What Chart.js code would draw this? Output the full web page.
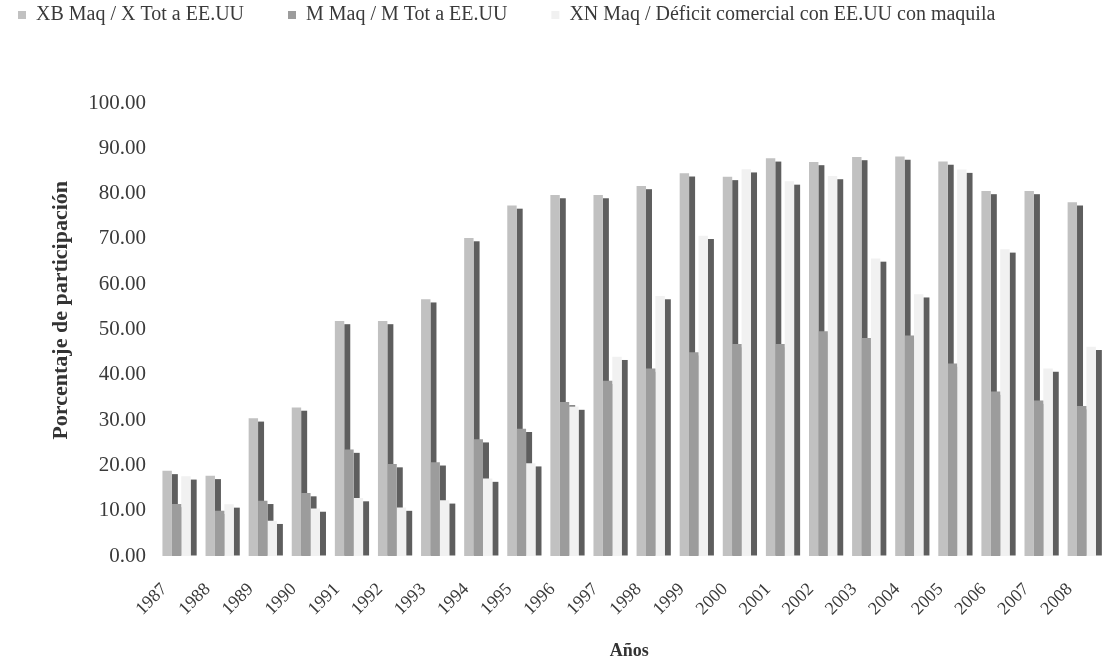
<!DOCTYPE html>
<html>
<head>
<meta charset="utf-8">
<script src="https://cdn.jsdelivr.net/npm/chart.js@4.4.0/dist/chart.umd.min.js"></script>
<style>
  html, body { margin: 0; padding: 0; background: #ffffff; overflow: hidden; }
  #wrap { position: relative; width: 1120px; height: 664px; }
</style>
</head>
<body>
<div id="wrap"><canvas id="c"></canvas></div>
<script>
// ---- data ----
const years = ['1987','1988','1989','1990','1991','1992','1993','1994','1995','1996','1997',
               '1998','1999','2000','2001','2002','2003','2004','2005','2006','2007','2008'];
const xbMaqShare = [18.8, 17.7, 30.4, 32.8, 51.9, 51.9, 56.7, 70.2, 77.4, 79.7, 79.7,
                    81.7, 84.5, 83.7, 87.8, 87.0, 88.1, 88.2, 87.1, 80.6, 80.6, 78.1];
const mMaqShare  = [11.5, 10.0, 12.2, 13.9, 23.5, 20.3, 20.7, 25.8, 28.1, 34.0, 38.7,
                    41.4, 45.0, 46.8, 46.8, 49.6, 48.1, 48.7, 42.5, 36.3, 34.3, 33.1];
const xnMaqShare = [17.6, 11.4, 7.8, 10.5, 12.8, 10.7, 12.3, 17.1, 20.5, 33.0, 44.0,
                    57.4, 70.7, 85.4, 82.7, 83.9, 65.7, 57.8, 85.3, 67.7, 41.4, 46.2];
const seriesNames = ['XB Maq / X Tot a EE.UU', 'M Maq / M Tot a EE.UU',
                     'XN Maq / Déficit comercial con EE.UU con maquila'];
const yTicks = [0, 10, 20, 30, 40, 50, 60, 70, 80, 90, 100];
const xTitle = 'Años';
const yTitle = 'Porcentaje de participación';

// ---- style ----
const SERIF = '"Liberation Serif", "Times New Roman", "DejaVu Serif", serif';
Chart.defaults.font.family = SERIF;
Chart.defaults.color = '#3a3a3a';
const SIDE_COLOR = '#5e5e5e';
const SIDE_DEPTH = 6;
const SIDE_DROP = 3.3;

// draws the dark right-hand side face of each column (3D look), behind the fronts
const sides3d = {
  id: 'sides3d',
  beforeDatasetsDraw(chart) {
    const ctx = chart.ctx;
    ctx.save();
    ctx.fillStyle = SIDE_COLOR;
    chart.data.datasets.forEach((ds, i) => {
      const meta = chart.getDatasetMeta(i);
      meta.data.forEach(bar => {
        const p = bar.getProps(['x', 'y', 'base', 'width'], true);
        const right = p.x + p.width / 2;
        const top = p.y + SIDE_DROP;
        const bottom = p.base - 0.5;
        if (bottom > top) ctx.fillRect(right, top, SIDE_DEPTH, bottom - top);
      });
    });
    ctx.restore();
  }
};

// legend height tweak so that the plot starts where the reference does
const legendSpace = {
  id: 'legendSpace',
  beforeInit(chart) {
    const lg = chart.legend;
    if (!lg) return;
    const origFit = lg.fit;
    lg.fit = function () {
      origFit.call(this);
      this.height = 142;
    };
  }
};

new Chart(document.getElementById('c'), {
  type: 'bar',
  data: {
    labels: years,
    datasets: [
      { label: seriesNames[0], data: xbMaqShare, backgroundColor: '#c1c1c1', borderWidth: 0 },
      { label: seriesNames[1], data: mMaqShare,  backgroundColor: '#9c9c9c', borderWidth: 0 },
      { label: seriesNames[2], data: xnMaqShare, backgroundColor: '#f1f1f1', borderWidth: 0 }
    ]
  },
  options: {
    responsive: true,
    maintainAspectRatio: false,
    animation: false,
    events: [],
    layout: { padding: { left: -26, top: -39, right: 0, bottom: 0 } },
    datasets: { bar: { categoryPercentage: 0.655, barPercentage: 1.0 } },
    plugins: {
      legend: {
        position: 'top',
        align: 'start',
        labels: {
          boxWidth: 8, boxHeight: 8, padding: 44,
          color: '#3a3a3a',
          font: { size: 20, family: SERIF }
        }
      },
      tooltip: { enabled: false }
    },
    scales: {
      x: {
        grid: { display: false, drawTicks: false },
        border: { display: false },
        ticks: {
          autoSkip: false, maxRotation: 45, minRotation: 45,
          padding: 23, labelOffset: -12,
          color: '#3a3a3a',
          font: { size: 18, family: SERIF }
        },
        title: {
          display: true, text: xTitle,
          color: '#333333',
          font: { size: 18, weight: 'bold', family: SERIF },
          padding: { top: 0, bottom: 2 }
        },
        afterFit(scale) { scale.height = 108; }
      },
      y: {
        min: 0, max: 100,
        grid: { display: false, drawTicks: false },
        border: { display: false },
        afterBuildTicks(scale) { scale.ticks = yTicks.map(v => ({ value: v })); },
        ticks: {
          padding: 9,
          color: '#3a3a3a',
          font: { size: 21, family: SERIF },
          callback: v => Number(v).toFixed(2)
        },
        title: {
          display: true, text: '       ' + yTitle,
          color: '#333333',
          font: { size: 22, weight: 'bold', family: SERIF },
          padding: { top: 74, bottom: 0 }
        },
        afterFit(scale) { scale.width = 181; }
      }
    }
  },
  plugins: [sides3d, legendSpace]
});
</script>
</body>
</html>
